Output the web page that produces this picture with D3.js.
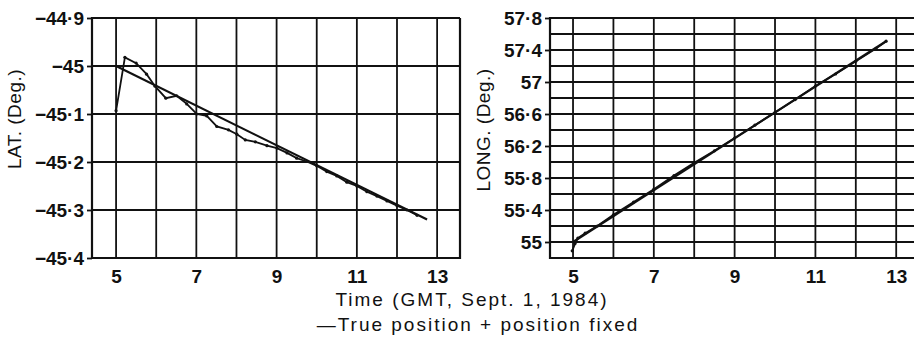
<!DOCTYPE html>
<html>
<head>
<meta charset="utf-8">
<script src="https://cdn.jsdelivr.net/npm/d3@7"></script>
<style>
  body { margin: 0; background: #fff; }
  svg text { font-family: "Liberation Sans", Arial, sans-serif; fill: #111; }
  .tick-lbl { font-size: 19px; font-weight: bold; }
  .title { font-size: 19px; letter-spacing: 2px; }
</style>
</head>
<body>
<div id="chart"></div>
<script>
var svgWidth = 914;
var svgHeight = 341;

// DATA
var hourTicks = [5, 6, 7, 8, 9, 10, 11, 12, 13];
var hourLabels = [5, 7, 9, 11, 13];

var latTicks = [-45.4, -45.3, -45.2, -45.1, -45, -44.9];
var latTrueHours = [5.0, 12.75];
var latTrueValues = [-45.0, -45.32];
var latFixHours = [5.0, 5.22, 5.5, 5.76, 5.97, 6.24, 6.51, 6.76, 7.01, 7.26, 7.51, 7.8, 8.01,
  8.22, 8.47, 8.76, 9.01, 9.26, 9.5, 9.75, 10.0, 10.25, 10.5, 10.75, 11.0, 11.25, 11.5,
  11.75, 12.0, 12.25, 12.5];
var latFixValues = [-45.093, -44.982, -44.994, -45.017, -45.042, -45.067, -45.062, -45.079,
  -45.100, -45.104, -45.126, -45.133, -45.142, -45.154, -45.158, -45.166, -45.171, -45.181,
  -45.192, -45.199, -45.208, -45.220, -45.229, -45.242, -45.250, -45.262, -45.271, -45.281,
  -45.291, -45.300, -45.311];

var longGrid = [55, 55.2, 55.4, 55.6, 55.8, 56, 56.2, 56.4, 56.6, 56.8, 57, 57.2, 57.4, 57.6];
var longTicks = [55, 55.4, 55.8, 56.2, 56.6, 57, 57.4, 57.8];
var longTrueHours = [5.0, 12.75];
var longTrueValues = [55.0, 57.51];
var longFixHours = [4.98, 5.05, 5.12, 5.3, 5.6, 6.0, 6.5, 7.0, 7.5, 8.0, 8.5, 9.0, 9.5, 10.0,
  10.5, 11.0, 11.5, 12.0, 12.5, 12.75];
var longFixValues = [54.89, 54.98, 55.05, 55.11, 55.2, 55.34, 55.5, 55.66, 55.83, 55.99, 56.14,
  56.3, 56.46, 56.62, 56.78, 56.95, 57.1, 57.26, 57.42, 57.51];

var svg = d3.select("#chart")
  .append("svg")
  .attr("width", svgWidth)
  .attr("height", svgHeight);

// tick text: "-45.1" -> "−45·1"
var fmt = d3.format(".1~f");
function tickText(v) {
  return fmt(v).replace("-", "\u2212").replace(".", "\u00b7");
}

function zip(xs, ys) {
  return xs.map((x, i) => [x, ys[i]]);
}

// DRAW ONE PANEL
function drawPanel(opts) {
  var x = opts.x, y = opts.y;
  var g = svg.append("g");
  var x0 = x.range()[0], x1 = Math.min(x.range()[1], svgWidth);
  var y0 = y.range()[0], y1 = y.range()[1];

  // vertical grid
  g.selectAll(".vgrid")
    .data(hourTicks)
    .enter()
    .append("line")
    .attr("x1", d => x(d)).attr("x2", d => x(d))
    .attr("y1", y0).attr("y2", y1)
    .attr("stroke", "#111").attr("stroke-width", 1.8);

  // horizontal grid
  g.selectAll(".hgrid")
    .data(opts.grid)
    .enter()
    .append("line")
    .attr("x1", x0).attr("x2", x1)
    .attr("y1", d => y(d)).attr("y2", d => y(d))
    .attr("stroke", "#111").attr("stroke-width", 1.8);

  // frame
  g.append("path")
    .attr("d", `M${x1},${y1}H${x0}V${y0}H${x1}` + (opts.closed ? `V${y1}` : ""))
    .attr("fill", "none")
    .attr("stroke", "#111")
    .attr("stroke-width", 2.2);

  // y axis ticks + labels
  var leftAxis = d3.axisLeft(y)
    .tickValues(opts.ticks)
    .tickSize(5)
    .tickPadding(3)
    .tickFormat(tickText);
  var ya = g.append("g")
    .attr("transform", `translate(${x0},0)`)
    .call(leftAxis);
  ya.select(".domain").remove();
  ya.selectAll("line").attr("stroke", "#111").attr("stroke-width", 1.8);
  ya.selectAll("text").attr("class", "tick-lbl").attr("dy", "0.36em").attr("fill", "#111");

  // x axis labels
  var bottomAxis = d3.axisBottom(x)
    .tickValues(hourLabels)
    .tickSize(0)
    .tickPadding(12);
  var xa = g.append("g")
    .attr("transform", `translate(0,${y0})`)
    .call(bottomAxis);
  xa.select(".domain").remove();
  xa.selectAll("text").attr("class", "tick-lbl").attr("fill", "#111");

  var line = d3.line().x(d => x(d[0])).y(d => y(d[1]));

  g.append("path")
    .datum(opts.trueData)
    .attr("d", line)
    .attr("fill", "none")
    .attr("stroke", "#111")
    .attr("stroke-width", 2.2);

  g.append("path")
    .datum(opts.fixData)
    .attr("d", line)
    .attr("fill", "none")
    .attr("stroke", "#111")
    .attr("stroke-width", 1.8);

  g.selectAll(".fix")
    .data(opts.fixData)
    .enter()
    .append("circle")
    .attr("cx", d => x(d[0]))
    .attr("cy", d => y(d[1]))
    .attr("r", 1.6)
    .attr("fill", "#111");

  // y title
  svg.append("text")
    .attr("class", "title")
    .attr("text-anchor", "middle")
    .attr("transform", `translate(${opts.titleX},${opts.titleY}) rotate(-90)`)
    .style("letter-spacing", "0.5px")
    .text(opts.title);
}

// LEFT PANEL: LATITUDE
drawPanel({
  x: d3.scaleLinear().domain([4.4, 13.57]).range([92, 460]),
  y: d3.scaleLinear().domain([-45.4, -44.9]).range([258, 18]),
  grid: [-45.3, -45.2, -45.1, -45],
  ticks: latTicks,
  closed: true,
  trueData: zip(latTrueHours, latTrueValues),
  fixData: zip(latFixHours, latFixValues),
  title: "LAT. (Deg.)",
  titleX: 21,
  titleY: 119
});

// RIGHT PANEL: LONGITUDE
drawPanel({
  x: d3.scaleLinear().domain([4.43, 13.5]).range([550, 916.4]),
  y: d3.scaleLinear().domain([54.8, 57.8]).range([258, 18]),
  grid: longGrid,
  ticks: longTicks,
  closed: false,
  trueData: zip(longTrueHours, longTrueValues),
  fixData: zip(longFixHours, longFixValues),
  title: "LONG. (Deg.)",
  titleX: 490,
  titleY: 130
});

// SHARED X TITLE + LEGEND
svg.append("text")
  .attr("class", "title")
  .attr("x", 472)
  .attr("y", 306)
  .attr("text-anchor", "middle")
  .text("Time (GMT, Sept. 1, 1984)");

svg.append("text")
  .attr("class", "title")
  .attr("x", 478)
  .attr("y", 331)
  .attr("text-anchor", "middle")
  .text("\u2014True position + position fixed");
</script>
</body>
</html>
